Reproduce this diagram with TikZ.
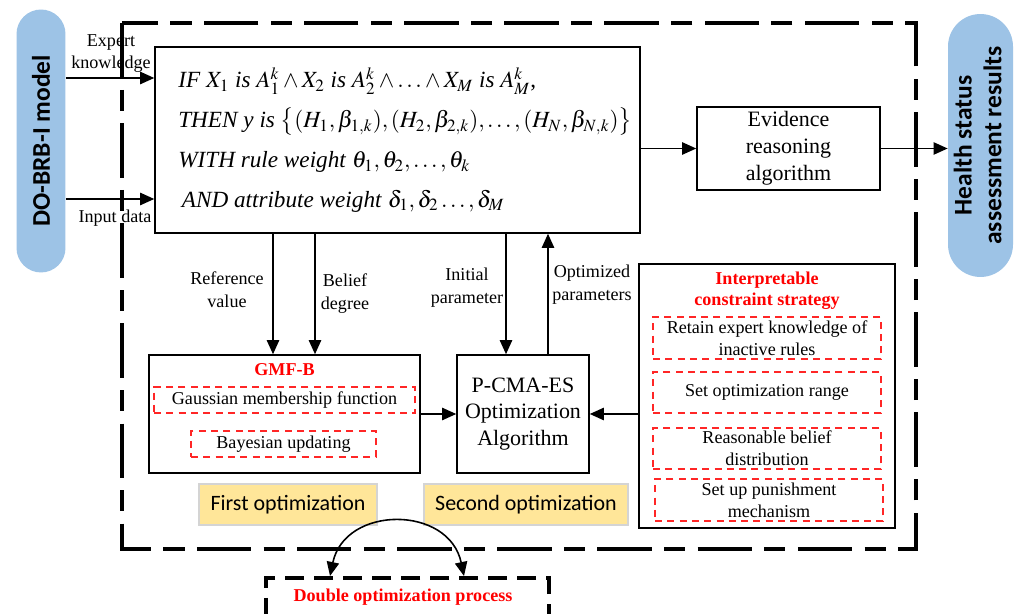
\documentclass[tikz,border=0pt]{standalone}
\usepackage{mathptmx}
\usepackage{fontspec}
\setmainfont{Liberation Serif}
\newfontfamily\calib{Carlito}
\usetikzlibrary{arrows.meta}
\definecolor{pillblue}{RGB}{157,195,230}
\definecolor{optyellow}{RGB}{255,230,153}
\definecolor{optgray}{RGB}{212,212,212}

\begin{document}
\begin{tikzpicture}[x=0.02cm,y=-0.02cm,
    box/.style={draw,line width=0.9pt,inner sep=0pt,align=center,font=\fontsize{12.5}{15.3}\selectfont},
    redbox/.style={draw=red!85,dash pattern=on 4pt off 3pt,line width=0.8pt,inner sep=0pt,align=center,font=\fontsize{10.3}{12.5}\selectfont},
    pill/.style={fill=pillblue,inner sep=0pt,font=\calib\bfseries\fontsize{14.5}{17}\selectfont},
    optbox/.style={fill=optyellow,draw=optgray,line width=0.6pt,inner sep=0pt,font=\calib\fontsize{12.5}{15}\selectfont},
    lbl/.style={align=center,inner sep=0pt,font=\fontsize{10.3}{13}\selectfont},
    redtitle/.style={text=red,align=center,inner sep=0pt,font=\bfseries\fontsize{10.3}{12}\selectfont},
    arr/.style={line width=0.9pt,-{Triangle[length=8pt,width=7pt]}}]
        \clip (0,0) rectangle (1015,614);
        \fill[white] (0,0) rectangle (1015,614);
        \draw[line width=1.8pt,dash pattern=on 31pt off 7pt on 12pt off 7pt] (122,23) rectangle (916,549);

        \node[pill,minimum width=0.98cm,minimum height=5.26cm,rounded corners=0.49cm] (model) at (41,141) {\rotatebox{90}{DO-BRB-I model}};
        \node[pill,minimum width=1.3cm,minimum height=5.26cm,rounded corners=0.65cm] (health) at (980.5,145.5)
            {\rotatebox{90}{\begin{tabular}{@{}c@{}}Health status\\assessment results\end{tabular}}};

        \node[box,minimum width=9.7cm,minimum height=3.72cm] (rule) at (397.5,140) {};
        \node[anchor=west,align=left,inner sep=0pt,font=\fontsize{13.2}{22.7}\selectfont] (ruletxt) at (178,140)
            {\textit{IF} $X_1$ \textit{is} $A_1^k \wedge X_2$ \textit{is} $A_2^k \wedge \ldots \wedge X_M$ \textit{is} $A_M^k$,\\
             \textit{THEN y is} $\big\{(H_1,\beta_{1,k}),(H_2,\beta_{2,k}),\ldots,(H_N,\beta_{N,k})\big\}$\\
             \textit{WITH rule weight} $\theta_1,\theta_2,\ldots,\theta_k$\\
             \hspace{2pt}\textit{AND attribute weight} $\delta_1,\delta_2\ldots,\delta_M$};
        \node[box,minimum width=3.66cm,minimum height=1.66cm] (evid) at (788.5,148.5) {Evidence\\reasoning\\algorithm};

        \node[box,minimum width=5.42cm,minimum height=2.36cm] (gmf) at (284.5,414) {};
        \node[redtitle] (gmft) at (284.5,370) {GMF-B};
        \node[redbox,minimum width=5.22cm,minimum height=0.52cm] (gauss) at (284.5,400) {Gaussian membership function};
        \node[redbox,minimum width=3.7cm,minimum height=0.52cm] (bayes) at (283.5,444) {Bayesian updating};

        \node[box,minimum width=2.64cm,minimum height=2.36cm] (pcma) at (523,414) {P-CMA-ES\\Optimization\\Algorithm};

        \node[optbox,minimum width=3.56cm,minimum height=0.82cm] (first) at (288,504.5) {First optimization};
        \node[optbox,minimum width=4.08cm,minimum height=0.82cm] (second) at (526,504.5) {Second optimization};

        \node[box,minimum width=5.12cm,minimum height=5.28cm] (ics) at (767,396) {};
        \node[redtitle] (icst) at (767,291) {Interpretable\\constraint strategy};
        \node[redbox,minimum width=4.56cm,minimum height=0.84cm] (c1) at (767,338) {Retain expert knowledge of\\inactive rules};
        \node[redbox,minimum width=4.56cm,minimum height=0.82cm] (c2) at (767,392.5) {Set optimization range};
        \node[redbox,minimum width=4.56cm,minimum height=0.82cm] (c3) at (767,448.5) {Reasonable belief\\distribution};
        \node[redbox,minimum width=4.56cm,minimum height=0.84cm] (c4) at (769,500) {Set up punishment\\mechanism};

        \node[draw,line width=1.8pt,dash pattern=on 11pt off 5.5pt,minimum width=5.66cm,minimum height=1.04cm,inner sep=0pt] (dbl) at (407.5,604) {};
        \node[redtitle] (dblt) at (403,597) {Double optimization process};

        \node[lbl] (ekl) at (111,53.5) {Expert\\knowledge};
        \node[lbl] (idl) at (115,218) {Input data};
        \node[lbl] (refl) at (227,289.5) {Reference\\value};
        \node[lbl] (bell) at (345,293.5) {Belief\\degree};
        \node[lbl] (inil) at (467,287.5) {Initial\\parameter};
        \node[lbl] (optl) at (592,285) {Optimized\\parameters};

        \coordinate (ek) at (0,78);
        \coordinate (id) at (0,199);
        \coordinate (refx) at (273,0);
        \coordinate (belx) at (315,0);
        \coordinate (inix) at (506,0);
        \coordinate (optx) at (548,0);
        \coordinate (dl) at (330,576);
        \coordinate (dr) at (464,576);

        \draw[arr] (model.east |- ek) -- (rule.west |- ek);
        \draw[arr] (model.east |- id) -- (rule.west |- id);
        \draw[arr] (rule.east |- evid.west) -- (evid.west);
        \draw[arr] (evid.east) -- (evid.east -| health.west);
        \draw[arr] (rule.south -| refx) -- (gmf.north -| refx);
        \draw[arr] (rule.south -| belx) -- (gmf.north -| belx);
        \draw[arr] (rule.south -| inix) -- (pcma.north -| inix);
        \draw[arr] (pcma.north -| optx) -- (rule.south -| optx);
        \draw[arr] (gmf.east) -- (pcma.west);
        \draw[arr] (ics.west |- pcma.east) -- (pcma.east);
        \draw[line width=0.9pt,{Triangle[length=8pt,width=7pt]}-{Triangle[length=8pt,width=7pt]}] (dl) .. controls (345,505) and (449,505) .. (dr);
    \end{tikzpicture}
\end{document}
